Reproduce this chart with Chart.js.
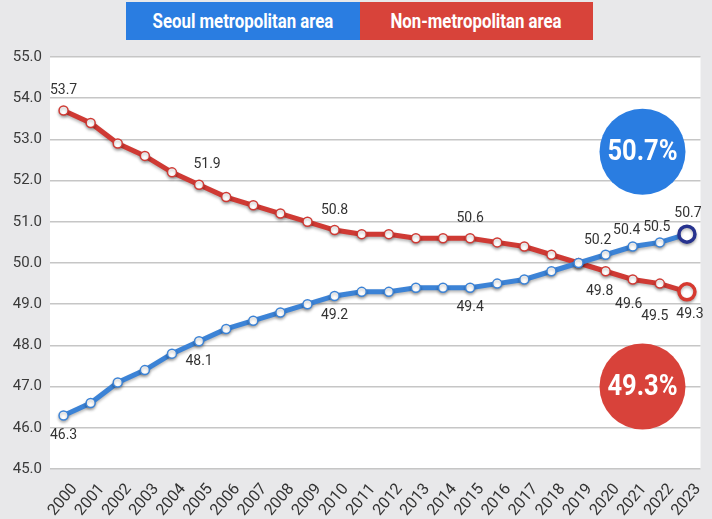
<!DOCTYPE html>
<html>
<head>
<meta charset="utf-8">
<script src="https://cdn.jsdelivr.net/npm/chart.js@4"></script>
<style>
  html, body { margin: 0; padding: 0; background: #e8e8ea; }
  #wrap { position: relative; width: 712px; height: 519px; }
  #legend { position: absolute; left: 126px; top: 2px; display: flex; height: 38px; }
  .lg { height: 38px; display: flex; align-items: center; justify-content: center;
        color: #fff; font: 700 21px Roboto, sans-serif; }
  .lg span { display: inline-block; transform: scaleX(0.8); white-space: nowrap; }
  #lg-seoul { width: 234px; background: #2a7de1; }
  #lg-non { width: 233px; background: #d8433a; }
  canvas { position: absolute; left: 0; top: 0; }
</style>
</head>
<body>
<div id="wrap">
  <canvas id="chart" width="712" height="519"></canvas>
  <div id="legend">
    <div class="lg" id="lg-seoul"><span>Seoul metropolitan area</span></div>
    <div class="lg" id="lg-non"><span>Non-metropolitan area</span></div>
  </div>
</div>
<script>
// population share (%) by year
const years = ['2000', '2001', '2002', '2003', '2004', '2005', '2006', '2007', '2008', '2009', '2010', '2011',
               '2012', '2013', '2014', '2015', '2016', '2017', '2018', '2019', '2020', '2021', '2022', '2023'];
const seoulShare = [46.3, 46.6, 47.1, 47.4, 47.8, 48.1, 48.4, 48.6, 48.8, 49.0, 49.2, 49.3,
                    49.3, 49.4, 49.4, 49.4, 49.5, 49.6, 49.8, 50.0, 50.2, 50.4, 50.5, 50.7];
const nonMetroShare = [53.7, 53.4, 52.9, 52.6, 52.2, 51.9, 51.6, 51.4, 51.2, 51.0, 50.8, 50.7,
                       50.7, 50.6, 50.6, 50.6, 50.5, 50.4, 50.2, 50.0, 49.8, 49.6, 49.5, 49.3];
const labelledIdx = [0, 5, 10, 15, 20, 21, 22, 23];
const yTicks = [45, 46, 47, 48, 49, 50, 51, 52, 53, 54, 55];

const BLUE = '#3c83d6';
const RED = '#cf3a34';
const last = years.length - 1;

// small nudges for labels near the crossing [dx, dy]
const nudge = {
  seoul: { 20: [-8, 6], 21: [-6, 4], 22: [-3, 5], 23: [1, -1] },
  non: { 5: [8, 0], 20: [-6, 0], 21: [-4, 5], 22: [-5, 13], 23: [3, 3] }
};

const plotBg = {
  id: 'plotBg',
  beforeDraw(chart) {
    const { ctx, chartArea: a } = chart;
    ctx.save();
    ctx.fillStyle = '#ffffff';
    ctx.fillRect(a.left, a.top, a.right - a.left, a.bottom - a.top);
    ctx.restore();
  }
};

const lineShadow = {
  id: 'lineShadow',
  beforeDatasetsDraw(chart) {
    const ctx = chart.ctx;
    ctx.save();
    ctx.shadowColor = 'rgba(0,0,0,0.28)';
    ctx.shadowBlur = 3;
    ctx.shadowOffsetY = 2;
  },
  afterDatasetsDraw(chart) {
    chart.ctx.restore();
  }
};

const valueLabels = {
  id: 'valueLabels',
  afterDatasetsDraw(chart) {
    const ctx = chart.ctx;
    ctx.save();
    ctx.font = '14px Roboto, sans-serif';
    ctx.fillStyle = '#333';
    ctx.textAlign = 'center';
    ctx.textBaseline = 'middle';
    chart.data.datasets.forEach((ds, di) => {
      const meta = chart.getDatasetMeta(di);
      const key = di === 0 ? 'seoul' : 'non';
      labelledIdx.forEach(i => {
        const pt = meta.data[i];
        // before the crossing seoul sits below the line, after it above
        const above = (di === 1) === (i < 19);
        let dx = 0, dy = above ? -20 : 20;
        if (nudge[key][i]) { dx += nudge[key][i][0]; dy += nudge[key][i][1]; }
        ctx.fillText(ds.data[i].toFixed(1), pt.x + dx, pt.y + dy);
      });
    });
    ctx.restore();
  }
};

const bigBadges = {
  id: 'bigBadges',
  afterDraw(chart) {
    const { ctx, chartArea: a, scales } = chart;
    const cx = a.right - 58;
    const badges = [
      { value: seoulShare[last], y: scales.y.getPixelForValue(52.7), color: '#2a7de1' },
      { value: nonMetroShare[last], y: scales.y.getPixelForValue(47.0), color: '#d8423a' }
    ];
    badges.forEach(b => {
      ctx.save();
      ctx.fillStyle = b.color;
      ctx.beginPath();
      ctx.arc(cx, b.y, 43, 0, Math.PI * 2);
      ctx.fill();
      ctx.translate(cx, b.y + 1);
      ctx.scale(0.88, 1);
      ctx.fillStyle = '#fff';
      ctx.font = '700 29px Roboto, sans-serif';
      ctx.textAlign = 'center';
      ctx.textBaseline = 'middle';
      ctx.fillText(b.value.toFixed(1) + '%', 0, 0);
      ctx.restore();
    });
  }
};

function pointStyle(color, lastColor) {
  return {
    pointRadius: ctx => ctx.dataIndex === last ? 8 : 4.5,
    pointHoverRadius: ctx => ctx.dataIndex === last ? 8 : 4.5,
    pointBorderWidth: ctx => ctx.dataIndex === last ? 3.5 : 1.5,
    pointBorderColor: ctx => ctx.dataIndex === last ? lastColor : color,
    pointBackgroundColor: '#ffffff'
  };
}

new Chart(document.getElementById('chart'), {
  type: 'line',
  data: {
    labels: years,
    datasets: [
      {
        label: 'Seoul metropolitan area',
        data: seoulShare,
        borderColor: BLUE,
        borderWidth: 5,
        tension: 0,
        ...pointStyle(BLUE, '#27338f')
      },
      {
        label: 'Non-metropolitan area',
        data: nonMetroShare,
        borderColor: RED,
        borderWidth: 5,
        tension: 0,
        ...pointStyle(RED, '#d6392f')
      }
    ]
  },
  options: {
    responsive: false,
    animation: false,
    layout: { padding: { top: 57, right: 7, left: 0, bottom: 0 } },
    plugins: {
      legend: { display: false },
      tooltip: { enabled: false }
    },
    scales: {
      x: {
        offset: true,
        grid: { display: false },
        border: { display: false },
        ticks: {
          color: '#333',
          font: { size: 16, family: 'Roboto' },
          minRotation: 50,
          maxRotation: 50,
          autoSkip: false,
          padding: 3,
          labelOffset: 11
        },
        afterFit: s => { s.height = 50; }
      },
      y: {
        min: 45,
        max: 55,
        afterBuildTicks: s => { s.ticks = yTicks.map(v => ({ value: v })); },
        grid: { color: '#c6c6c6', lineWidth: 1.5, drawTicks: false },
        border: { display: false },
        ticks: {
          color: '#3a3a3a',
          font: { size: 15, family: 'Roboto' },
          padding: 8,
          callback: v => Number(v).toFixed(1)
        },
        afterFit: s => { s.width = 50; }
      }
    }
  },
  plugins: [plotBg, lineShadow, valueLabels, bigBadges]
});
</script>
</body>
</html>
